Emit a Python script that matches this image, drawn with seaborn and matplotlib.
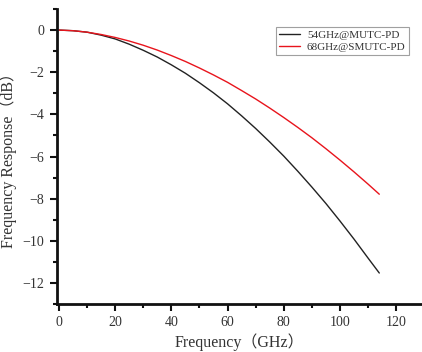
import numpy as np
import pandas as pd
import matplotlib
matplotlib.use("Agg")
import matplotlib.pyplot as plt
import seaborn as sns
from matplotlib.ticker import MultipleLocator

freq = [0, 5, 10, 15, 20, 25, 30, 35, 40, 45, 50, 55, 60, 65, 70, 75, 80, 85, 90, 95, 100, 105, 110, 114]
mutc = [0, -0.03, -0.10, -0.24, -0.42, -0.67, -0.96, -1.28, -1.65, -2.05, -2.50, -2.98, -3.50,
        -4.07, -4.67, -5.31, -5.98, -6.70, -7.45, -8.23, -9.06, -9.92, -10.82, -11.53]
smutc = [0, -0.03, -0.10, -0.21, -0.35, -0.52, -0.72, -0.95, -1.21, -1.49, -1.80, -2.13, -2.48,
         -2.87, -3.27, -3.70, -4.15, -4.62, -5.11, -5.63, -6.17, -6.73, -7.31, -7.79]
labels = ["54GHz@MUTC-PD", "68GHz@SMUTC-PD"]

df = pd.DataFrame({
    "freq": freq + freq,
    "resp": mutc + smutc,
    "device": [labels[0]] * len(freq) + [labels[1]] * len(freq),
})

sns.set_style("ticks")
plt.rcParams['font.family'] = ['Liberation Serif', 'Noto Sans CJK SC', 'DejaVu Sans']

fig = plt.figure(figsize=(4.22, 3.52), dpi=100)
ax = fig.add_axes([57/422, 48/352, 1 - 57/422, (304 - 9)/352])

sns.lineplot(data=df, x="freq", y="resp", hue="device",
             palette={labels[0]: "#222222", labels[1]: "#e8141c"},
             linewidth=1.0, ax=ax)

ax.set_xlim(-0.7, 129.2)
ax.set_ylim(-13, 1)
ax.xaxis.set_minor_locator(MultipleLocator(10))
ax.yaxis.set_minor_locator(MultipleLocator(1))
ax.set_xticks([0, 20, 40, 60, 80, 100, 120])
ax.set_yticks([0, -2, -4, -6, -8, -10, -12])

for s in ["top", "right"]:
    ax.spines[s].set_visible(False)
for s in ["left", "bottom"]:
    ax.spines[s].set_linewidth(2.0)
    ax.spines[s].set_color("#111111")
ax.tick_params(which="major", direction="out", length=5, width=1.5, labelsize=10,
               color="#111111", labelcolor="#333333", pad=4)
ax.tick_params(which="minor", direction="out", length=3, width=1.5, color="#111111")

ax.set_xlabel("Frequency（GHz）", fontsize=11.5, color="#333333", labelpad=3)
ax.set_ylabel("Frequency Response（dB）", fontsize=11.5, color="#333333", labelpad=4)

leg = ax.legend(loc="upper right", bbox_to_anchor=((409 - 57) / 365, 1 - (27 - 9) / 295),
                bbox_transform=ax.transAxes, fontsize=8, frameon=True, fancybox=False,
                edgecolor="#888888", borderpad=0.3, labelspacing=0.15, handlelength=1.9,
                handletextpad=0.6, borderaxespad=0)
leg.get_frame().set_linewidth(0.8)
for t in leg.get_texts():
    t.set_color("#333333")

fig.savefig("out.png", dpi=100)
